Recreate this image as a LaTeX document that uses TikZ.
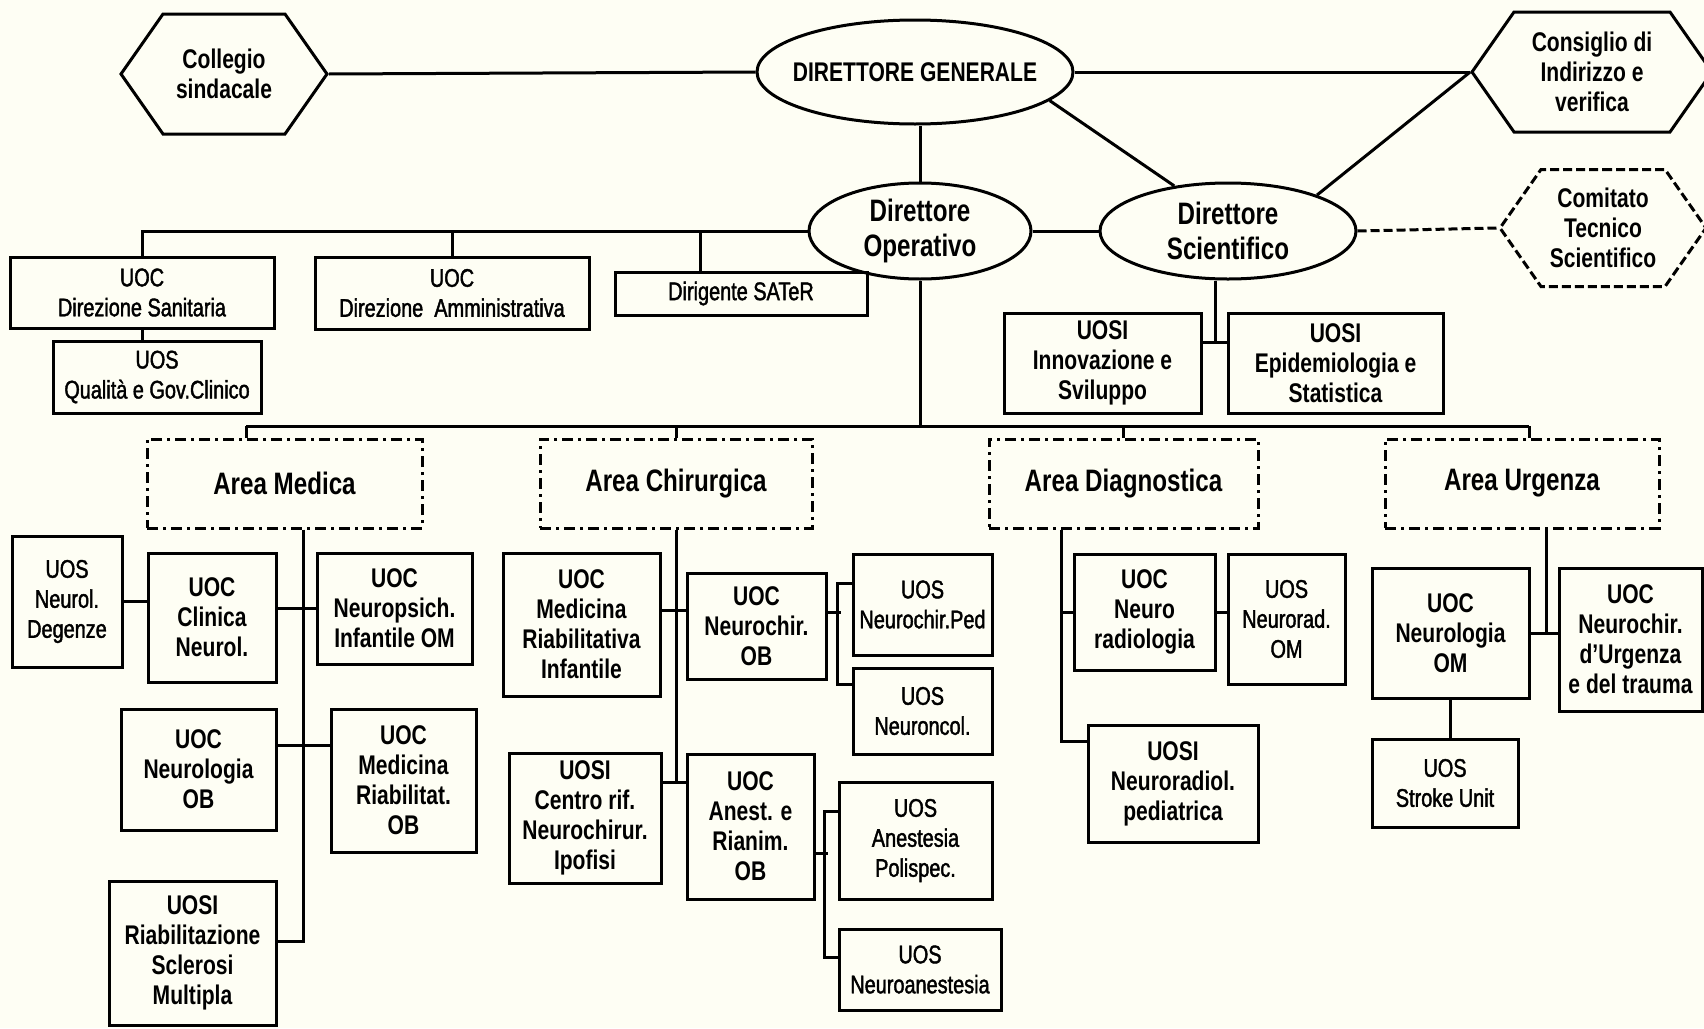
\documentclass[tikz,border=0pt]{standalone}
\usepackage{fontspec}
\setmainfont{Liberation Sans}[FakeStretch=0.78]
\newfontfamily\medfont{Liberation Sans}[FakeStretch=0.78,FakeBold=1.6]
\usetikzlibrary{shapes.geometric,shapes.symbols,calc}
\definecolor{paper}{RGB}{254,254,244}

\begin{document}
\begin{tikzpicture}[x=1pt,y=-1pt,
    line width=3pt,
    every node/.style={align=center,inner sep=0pt},
    uocbox/.style={draw,rectangle,font=\fontsize{27}{30}\selectfont\bfseries},
    thinbox/.style={draw,rectangle,font=\medfont\fontsize{25.5}{30}\selectfont},
    areabox/.style={draw,rectangle,dash pattern=on 11pt off 5pt on 3pt off 5pt,
      font=\fontsize{31}{34}\selectfont\bfseries},
    dirbox/.style={draw,ellipse,font=\fontsize{31}{35}\selectfont\bfseries},
    hexbox/.style={draw,signal,signal to=east and west,signal pointer angle=110,
      font=\fontsize{27}{30}\selectfont\bfseries},
  ]
  \fill[paper] (0,0) rectangle (1704,1028);
  \useasboundingbox (0,0) rectangle (1704,1028);

  \node[hexbox,minimum width=206,minimum height=120] (coll) at (224,74) {Collegio\\sindacale};
  \node[dirbox,font=\fontsize{27}{30}\selectfont\bfseries,minimum width=316,minimum height=104] (dg) at (915,72) {\makebox[0pt]{DIRETTORE GENERALE}};
  \node[hexbox,minimum width=240,minimum height=120] (cons) at (1592,72) {Consiglio di\\Indirizzo e\\verifica};
  \node[dirbox,minimum width=222,minimum height=96] (dop) at (920,231) {Direttore\\Operativo};
  \node[dirbox,minimum width=256,minimum height=96] (dsc) at (1228,231) {Direttore\\Scientifico};
  \node[hexbox,dash pattern=on 9pt off 4pt,minimum width=206,minimum height=117] (com) at (1603,228) {Comitato\\Tecnico\\Scientifico};

  \node[thinbox,minimum width=264,minimum height=71] (dsan) at (142,292.5) {UOC\\Direzione Sanitaria};
  \node[thinbox,minimum width=208,minimum height=72] (qual) at (157,377) {UOS\\Qualità e Gov.Clinico};
  \node[thinbox,minimum width=274,minimum height=72] (damm) at (452,293) {UOC\\Direzione\ \ Amministrativa};
  \node[thinbox,minimum width=252,minimum height=43] (sater) at (741,293.5) {Dirigente SATeR};
  \node[uocbox,minimum width=197,minimum height=100] (uinn) at (1102.5,363) {UOSI\\Innovazione e\\Sviluppo};
  \node[uocbox,minimum width=215,minimum height=100] (uepi) at (1335.5,363) {UOSI\\Epidemiologia e\\Statistica};

  \node[areabox,minimum width=275,minimum height=89] (amed) at (284.5,483.5) {Area Medica};
  \node[areabox,minimum width=272,minimum height=89] (achi) at (676,483.5) {Area Chirurgica};
  \node[areabox,minimum width=269,minimum height=89] (adia) at (1123.5,483.5) {Area Diagnostica};
  \node[areabox,minimum width=274,minimum height=89] (aurg) at (1522,483.5) {Area Urgenza};

  \node[thinbox,minimum width=110,minimum height=131] (udeg) at (67,601.5) {UOS\\Neurol.\\Degenze};
  \node[uocbox,minimum width=128,minimum height=129] (ucli) at (212,617.5) {UOC\\Clinica\\Neurol.};
  \node[uocbox,minimum width=155,minimum height=111] (unps) at (394.5,608.5) {UOC\\Neuropsich.\\Infantile OM};
  \node[uocbox,minimum width=155,minimum height=121] (uneu) at (198.5,769.5) {UOC\\Neurologia\\OB};
  \node[uocbox,minimum width=145,minimum height=143] (umrb) at (403.5,780.5) {UOC\\Medicina\\Riabilitat.\\OB};
  \node[uocbox,minimum width=167,minimum height=144] (uscl) at (192.5,953) {UOSI\\Riabilitazione\\Sclerosi\\Multipla};

  \node[uocbox,minimum width=157,minimum height=143] (umri) at (581.5,624.5) {UOC\\Medicina\\Riabilitativa\\Infantile};
  \node[uocbox,minimum width=139,minimum height=106] (unch) at (756.5,626) {UOC\\Neurochir.\\OB};
  \node[thinbox,minimum width=139,minimum height=101] (uped) at (922.5,604.5) {UOS\\Neurochir.Ped};
  \node[thinbox,minimum width=139,minimum height=86] (uonc) at (922.5,711) {UOS\\Neuroncol.};
  \node[uocbox,minimum width=152,minimum height=130] (uipo) at (585,818) {UOSI\\Centro rif.\\Neurochirur.\\Ipofisi};
  \node[uocbox,minimum width=127,minimum height=145] (uane) at (750.5,826.5) {UOC\\Anest. e\\Rianim.\\OB};
  \node[thinbox,minimum width=153,minimum height=117] (upol) at (915.5,840.5) {UOS\\Anestesia\\Polispec.};
  \node[thinbox,minimum width=162,minimum height=81] (unan) at (920,969.5) {UOS\\Neuroanestesia};

  \node[uocbox,minimum width=141,minimum height=116] (unra) at (1144.5,612) {UOC\\Neuro\\radiologia};
  \node[thinbox,minimum width=117,minimum height=130] (uord) at (1286.5,619) {UOS\\Neurorad.\\OM};
  \node[uocbox,minimum width=170,minimum height=117] (urpd) at (1173,783.5) {UOSI\\Neuroradiol.\\pediatrica};

  \node[uocbox,minimum width=157,minimum height=130] (unom) at (1450.5,633) {UOC\\Neurologia\\OM};
  \node[uocbox,minimum width=143,minimum height=143] (untr) at (1630.5,639.5) {UOC\\Neurochir.\\d'Urgenza\\e del trauma};
  \node[thinbox,minimum width=146,minimum height=88] (ustr) at (1445,783) {UOS\\Stroke Unit};

  \draw (coll.east) -- (dg.west);
  \draw (dg.east) -- (cons.west);
  \draw (dop.north) -- (dop.north |- dg.south);
  \draw (dg.-12) -- (dsc.140);
  \draw (cons.west) -- (dsc.22);
  \draw (dop.east) -- (dsc.west);
  \draw[dash pattern=on 9pt off 4pt] (dsc.east) -- (com.west);

  \draw (dop.west) -| (dsan.north);
  \draw (damm.north) |- (dop.west);
  \coordinate (satj) at ([xshift=-41pt]sater.north);
  \draw (satj) |- (dop.west);
  \draw (dsan.south) -- (dsan.south |- qual.north);

  \coordinate (innj) at ([yshift=21pt]uinn.east);
  \draw (innj) -- (innj -| uepi.west);
  \coordinate (scij) at ([xshift=-13pt]dsc.south);
  \draw (scij) -- (scij |- innj);

  \coordinate (busl) at (246,426);
  \coordinate (busr) at (1529,426);
  \draw (busl) -- (busr);
  \draw (dop.south) -- (dop.south |- busl);
  \draw (busl) -- (busl |- amed.north);
  \draw (achi.north) -- (achi.north |- busl);
  \draw (adia.north) -- (adia.north |- busl);
  \draw (busr) -- (busr |- aurg.north);

  \coordinate (medt) at ([xshift=18.5pt]amed.south);
  \coordinate (sclj) at ([yshift=12pt]uscl.east);
  \draw (medt) |- (sclj);
  \draw (udeg.east) -- (udeg.east -| ucli.west);
  \draw (ucli.east |- unps.west) -- (unps.west);
  \coordinate (neuj) at ([yshift=24pt]uneu.east);
  \draw (neuj) -- (neuj -| umrb.west);

  \coordinate (mrij) at ([yshift=14pt]umri.east);
  \draw (mrij) -- (mrij -| unch.west);
  \coordinate (ipoj) at ([yshift=36pt]uipo.east);
  \draw (ipoj) -- (ipoj -| uane.west);
  \draw (achi.south) -- (achi.south |- ipoj);
  \draw ([yshift=14pt]unch.east) -- ++(13,0);
  \draw ([yshift=21pt]uped.west) -- ++(-14,0) |- ([yshift=27pt]uonc.west);
  \draw ([yshift=-27pt]uane.east) -- ++(12,0);
  \draw ([yshift=29pt]upol.west) -- ++(-13,0) |- ([yshift=12pt]unan.west);

  \coordinate (diat) at ([xshift=-62.5pt]adia.south);
  \coordinate (rpdj) at ([yshift=42pt]urpd.west);
  \draw (diat) |- (rpdj);
  \draw (diat |- unra.west) -- (unra.west);
  \draw (unra.east) -- (unra.east -| uord.west);

  \coordinate (urgt) at ([xshift=24pt]aurg.south);
  \draw (urgt) -- (urgt |- unom.east);
  \draw (unom.east) -- (unom.east -| untr.west);
  \draw (unom.south) -- (unom.south |- ustr.north);
\end{tikzpicture}
\end{document}
